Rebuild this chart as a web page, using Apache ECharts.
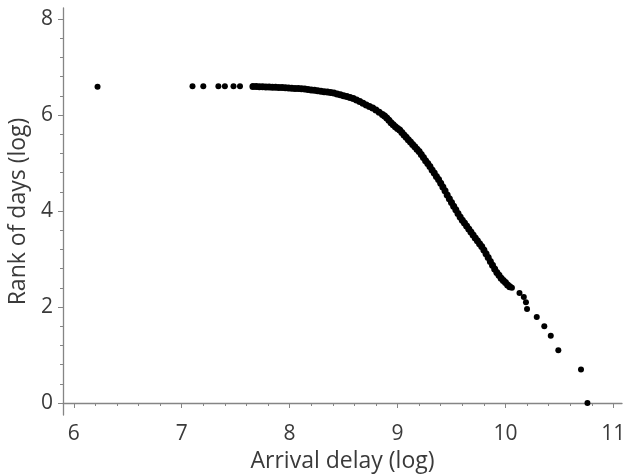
<!DOCTYPE html>
<html>
<head>
<meta charset="utf-8">
<script src="https://cdn.jsdelivr.net/npm/echarts@6/dist/echarts.min.js"></script>
<style>
  html, body { margin: 0; padding: 0; background: #fff; }
  #chart { width: 624px; height: 475px; }
</style>
</head>
<body>
<div id="chart"></div>
<script>
// arrival delay (log) vs rank of days (log)
var leftPoints = [
  [6.22, 6.59], [7.10, 6.60], [7.20, 6.60], [7.34, 6.60], [7.40, 6.60], [7.48, 6.60], [7.54, 6.60]
]
var curvePoints = [
  [7.66, 6.594], [7.69, 6.592], [7.72, 6.590], [7.75, 6.588], [7.78, 6.586], [7.81, 6.583],
  [7.84, 6.580], [7.87, 6.577], [7.90, 6.574], [7.93, 6.571], [7.96, 6.567], [7.99, 6.564],
  [8.02, 6.560], [8.05, 6.555], [8.08, 6.551], [8.11, 6.546], [8.14, 6.541], [8.17, 6.533],
  [8.20, 6.524], [8.23, 6.515], [8.26, 6.505], [8.29, 6.496], [8.32, 6.487], [8.35, 6.478],
  [8.38, 6.468], [8.41, 6.458], [8.44, 6.44], [8.47, 6.42], [8.50, 6.40], [8.53, 6.385],
  [8.56, 6.364], [8.59, 6.342], [8.62, 6.315], [8.65, 6.28], [8.68, 6.245], [8.71, 6.21],
  [8.74, 6.178], [8.77, 6.145], [8.80, 6.105], [8.83, 6.06], [8.86, 6.01], [8.88, 5.98],
  [8.90, 5.94], [8.92, 5.89], [8.94, 5.84], [8.96, 5.80], [8.98, 5.755], [9.00, 5.72],
  [9.02, 5.686], [9.04, 5.636], [9.06, 5.585], [9.08, 5.535], [9.10, 5.485], [9.12, 5.436],
  [9.14, 5.386], [9.16, 5.337], [9.18, 5.288], [9.20, 5.24], [9.22, 5.18], [9.24, 5.115],
  [9.26, 5.05], [9.28, 4.99], [9.30, 4.925], [9.32, 4.855], [9.34, 4.79], [9.36, 4.72],
  [9.38, 4.655], [9.40, 4.58], [9.42, 4.50], [9.44, 4.42], [9.46, 4.335], [9.48, 4.255],
  [9.50, 4.18], [9.52, 4.10], [9.54, 4.025], [9.56, 3.95], [9.58, 3.875], [9.60, 3.81],
  [9.62, 3.75], [9.64, 3.69], [9.66, 3.625], [9.68, 3.565], [9.70, 3.50], [9.72, 3.44],
  [9.74, 3.38], [9.76, 3.32], [9.78, 3.26], [9.80, 3.19], [9.82, 3.11], [9.84, 3.03],
  [9.86, 2.95], [9.88, 2.87], [9.90, 2.79], [9.92, 2.72], [9.94, 2.66], [9.96, 2.60],
  [9.98, 2.55], [10.00, 2.51], [10.02, 2.46], [10.04, 2.42]
]
var tailPoints = [
  [10.06, 2.40], [10.13, 2.29], [10.17, 2.21], [10.19, 2.10], [10.20, 1.96], [10.29, 1.79],
  [10.36, 1.60], [10.42, 1.40], [10.49, 1.10], [10.70, 0.70], [10.76, 0.0]
]

var xMajor = [6, 7, 8, 9, 10, 11]
var xMinor = [6.2, 6.4, 6.6, 6.8, 7.2, 7.4, 7.6, 7.8, 8.2, 8.4, 8.6, 8.8,
  9.2, 9.4, 9.6, 9.8, 10.2, 10.4, 10.6, 10.8]
var yMajor = [0, 2, 4, 6, 8]
var yMinor = [0.4, 0.8, 1.2, 1.6, 2.4, 2.8, 3.2, 3.6, 4.4, 4.8, 5.2, 5.6, 6.4, 6.8, 7.2, 7.6]

var axisColor = '#858585'
var textColor = '#3a3a3a'
var font = 'Open Sans'

var myChart = echarts.init(document.getElementById('chart'))
var option = {
  animation: false,
  grid: { left: 63, right: 2, top: 8, bottom: 60, containLabel: false, outerBoundsMode: 'none' },
  xAxis: [
    {
      type: 'value',
      min: 5.9,
      max: 11.08,
      position: 'bottom',
      name: 'Arrival delay (log)',
      nameLocation: 'middle',
      nameGap: 35,
      nameTextStyle: { color: textColor, fontSize: 23, fontFamily: font },
      splitLine: { show: false },
      axisLine: { lineStyle: { color: axisColor, width: 1.3 } },
      axisTick: { customValues: xMajor, length: 5, lineStyle: { color: axisColor } },
      axisLabel: { customValues: xMajor, color: textColor, fontSize: 21, fontFamily: font, margin: 9 }
    },
    {
      // minor ticks only
      type: 'value',
      min: 5.9,
      max: 11.08,
      position: 'bottom',
      splitLine: { show: false },
      axisLine: { show: false },
      axisTick: { customValues: xMinor, length: 3, lineStyle: { color: axisColor } },
      axisLabel: { show: false }
    }
  ],
  yAxis: [
    {
      type: 'value',
      min: -0.25,
      max: 8.23,
      position: 'left',
      name: 'Rank of days (log)',
      nameLocation: 'middle',
      nameGap: 30,
      nameTextStyle: { color: textColor, fontSize: 23, fontFamily: font },
      splitLine: { show: false },
      axisLine: { lineStyle: { color: axisColor, width: 1.3 } },
      axisTick: { customValues: yMajor, length: 5, lineStyle: { color: axisColor } },
      axisLabel: { customValues: yMajor, color: textColor, fontSize: 21, fontFamily: font, margin: 10 }
    },
    {
      type: 'value',
      min: -0.25,
      max: 8.23,
      position: 'left',
      splitLine: { show: false },
      axisLine: { show: false },
      axisTick: { customValues: yMinor, length: 3, lineStyle: { color: axisColor } },
      axisLabel: { show: false }
    }
  ],
  series: [
    {
      type: 'scatter',
      data: leftPoints.concat(tailPoints),
      symbol: 'circle',
      symbolSize: 6,
      itemStyle: { color: '#000', opacity: 1 }
    },
    {
      type: 'scatter',
      data: curvePoints,
      symbol: 'circle',
      symbolSize: 7,
      itemStyle: { color: '#000', opacity: 1 }
    }
  ]
}
myChart.setOption(option)
</script>
</body>
</html>
